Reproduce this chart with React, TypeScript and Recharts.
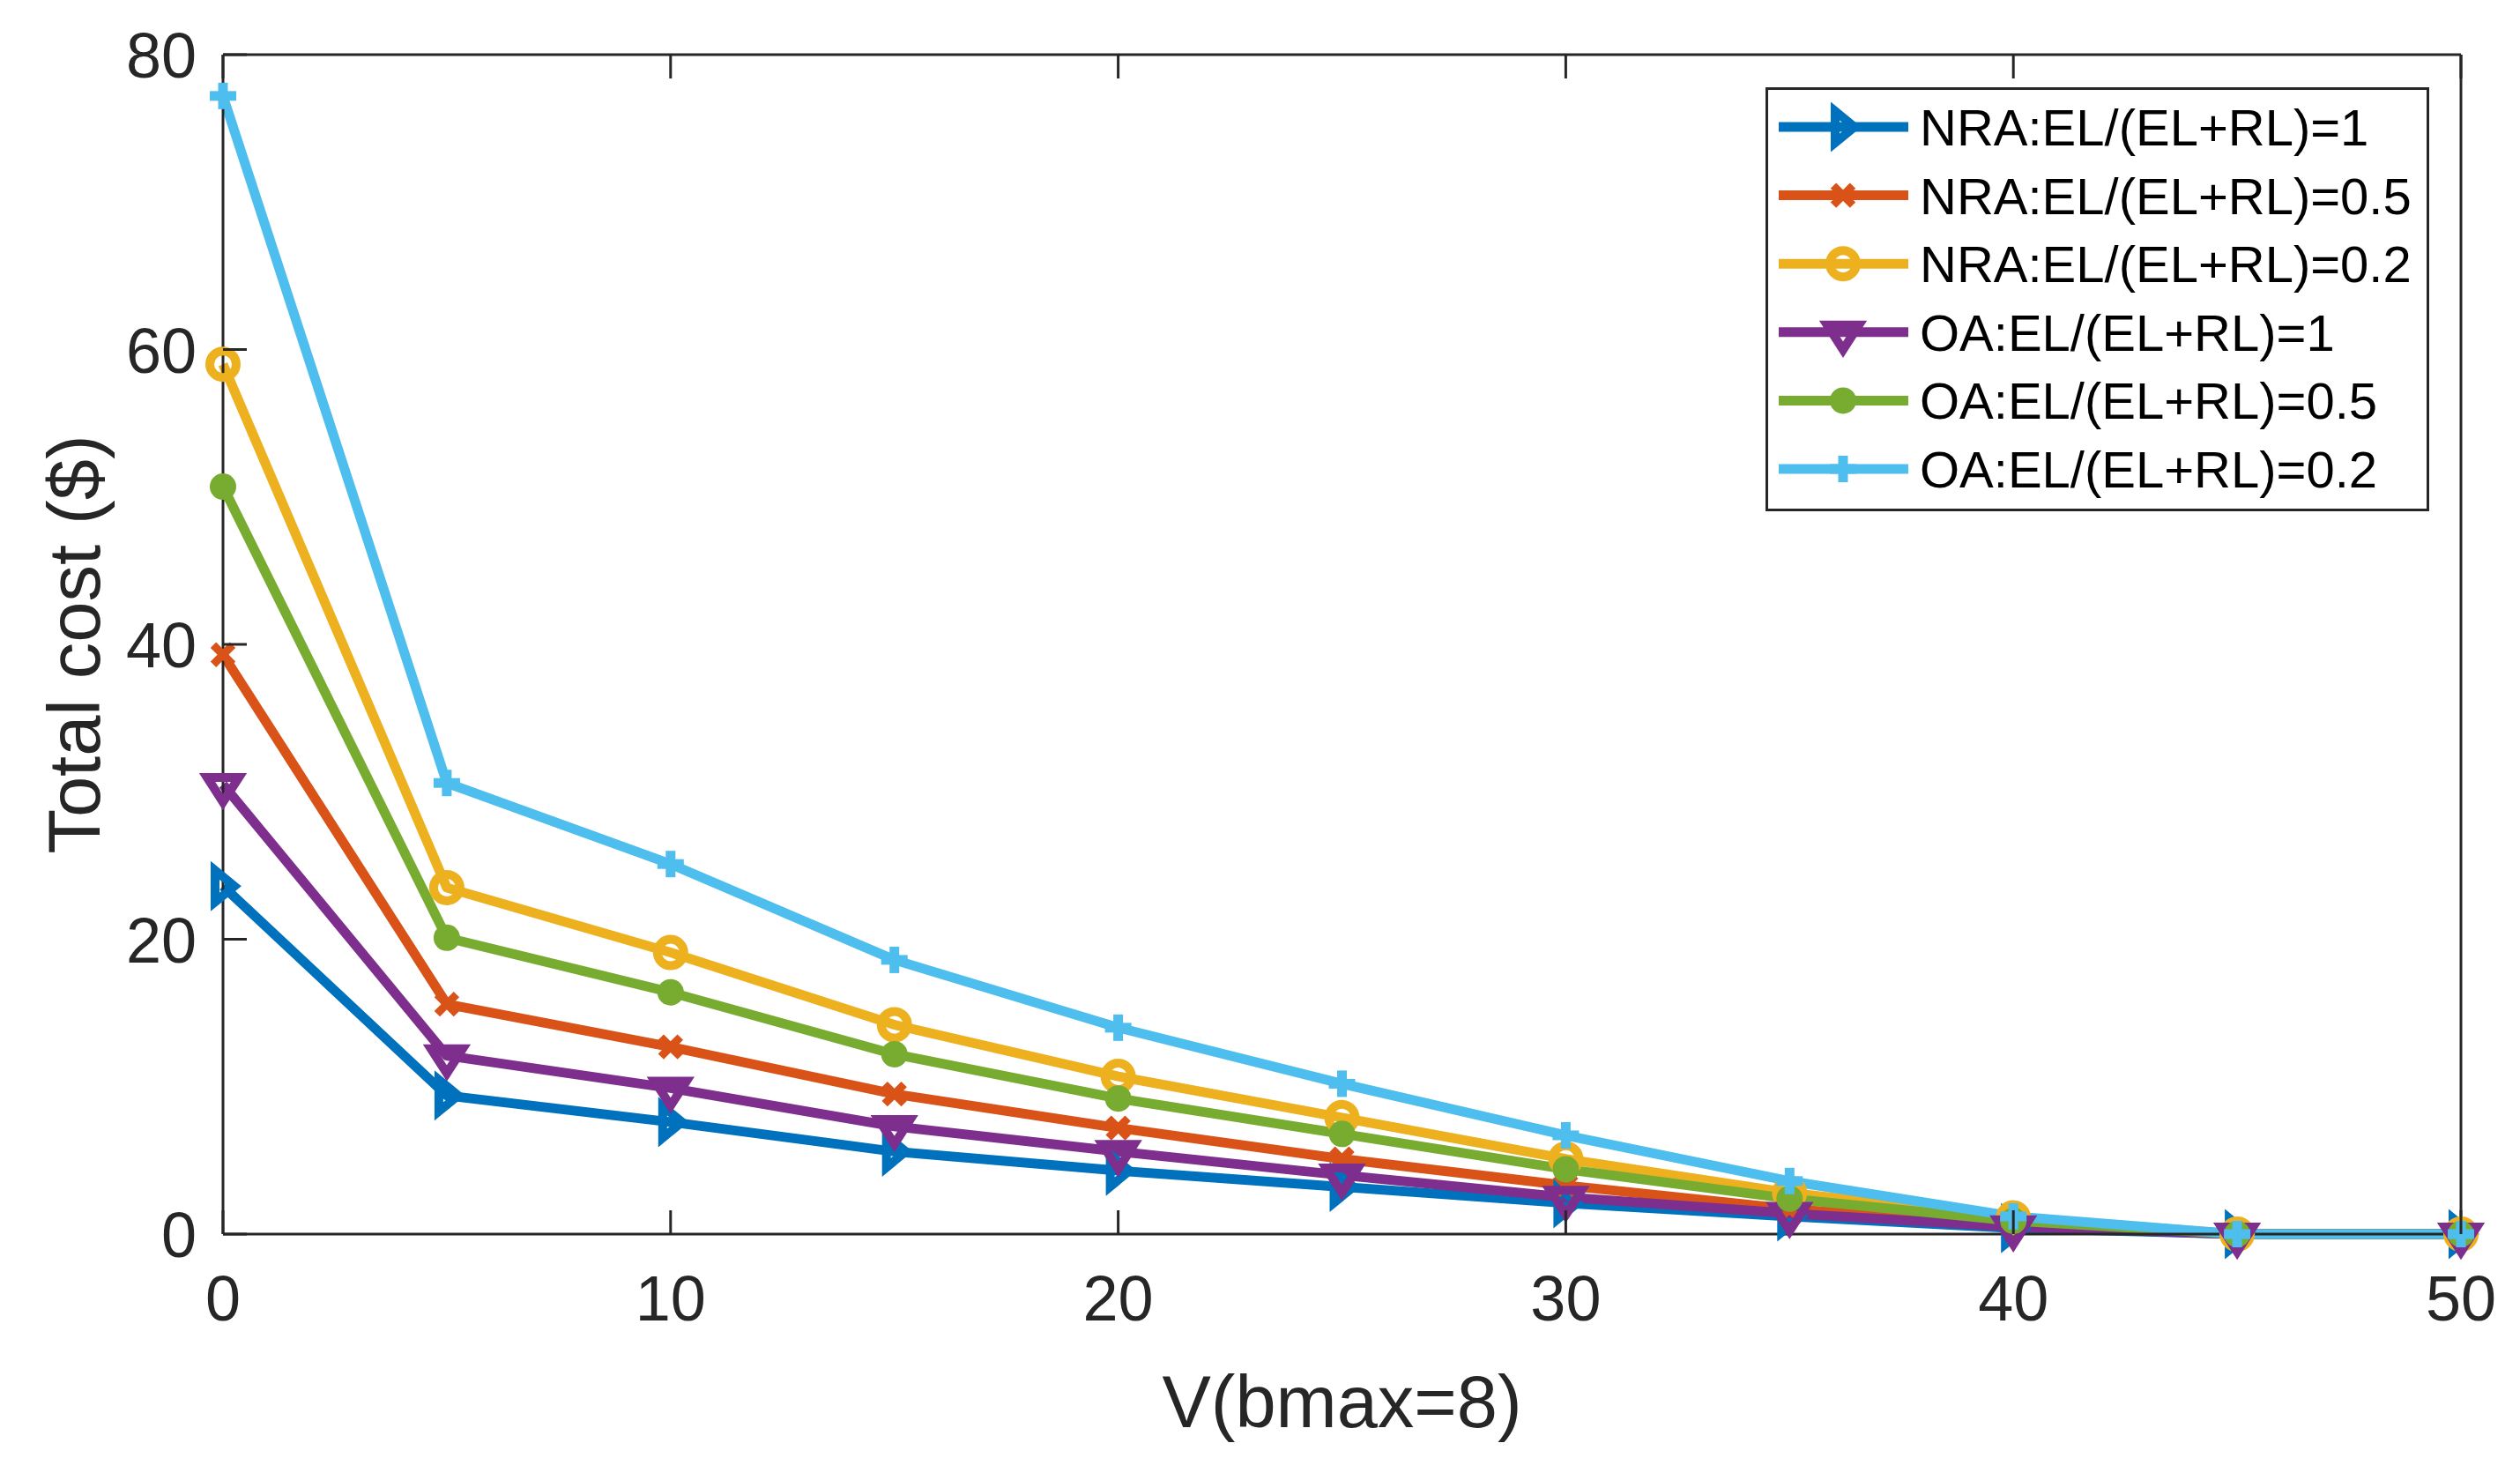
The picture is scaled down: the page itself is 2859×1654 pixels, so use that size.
import React from 'react';
import { LineChart, Line, XAxis, YAxis, Legend } from 'recharts';

const vValues = [0, 5, 10, 15, 20, 25, 30, 35, 40, 45, 50];
const nraOne = [23.6, 9.4, 7.6, 5.6, 4.3, 3.2, 2.1, 1.2, 0.4, 0, 0];
const nraHalf = [39.3, 15.6, 12.7, 9.5, 7.2, 5.1, 3.3, 1.7, 0.7, 0, 0];
const nraFifth = [59.0, 23.5, 19.1, 14.2, 10.7, 7.9, 5.1, 2.8, 1.1, 0, 0];
const oaOne = [30.5, 12.1, 9.9, 7.3, 5.6, 4.0, 2.5, 1.4, 0.5, 0, 0];
const oaHalf = [50.7, 20.1, 16.4, 12.2, 9.2, 6.8, 4.4, 2.4, 0.9, 0, 0];
const oaFifth = [77.2, 30.6, 25.1, 18.6, 14.0, 10.2, 6.7, 3.6, 1.2, 0, 0];

const xTicks = [0, 10, 20, 30, 40, 50];
const yTicks = [0, 20, 40, 60, 80];
const xLabel = 'V(bmax=8)';
const yLabel = 'Total cost ($)';

const seriesKeys = ['nraOne', 'nraHalf', 'nraFifth', 'oaOne', 'oaHalf', 'oaFifth'];
const seriesNames = [
  'NRA:EL/(EL+RL)=1',
  'NRA:EL/(EL+RL)=0.5',
  'NRA:EL/(EL+RL)=0.2',
  'OA:EL/(EL+RL)=1',
  'OA:EL/(EL+RL)=0.5',
  'OA:EL/(EL+RL)=0.2',
];
const seriesColors = ['#0072BD', '#D95319', '#EDB120', '#7E2F8E', '#77AC30', '#4DBEEE'];
const seriesShapes = ['triRight', 'cross', 'circle', 'triDown', 'dot', 'plus'];

const data = vValues.map((v, i) => ({
  v,
  nraOne: nraOne[i],
  nraHalf: nraHalf[i],
  nraFifth: nraFifth[i],
  oaOne: oaOne[i],
  oaHalf: oaHalf[i],
  oaFifth: oaFifth[i],
}));

const FONT = '"Liberation Sans", Arial, Helvetica, sans-serif';
const AXIS = '#262626';
const TICK_LEN = 27;
const LINE_W = 11;

function marker(shape: string, cx: number, cy: number, color: string, key?: any) {
  const sw = LINE_W;
  switch (shape) {
    case 'triRight':
      return (
        <polygon key={key} points={`${cx + 13},${cy} ${cx - 9},${cy - 18} ${cx - 9},${cy + 18}`}
          fill="none" stroke={color} strokeWidth={sw - 1} strokeLinejoin="miter" strokeMiterlimit={10} />
      );
    case 'triDown':
      return (
        <polygon key={key} points={`${cx - 18},${cy - 8} ${cx + 18},${cy - 8} ${cx},${cy + 20}`}
          fill="none" stroke={color} strokeWidth={sw - 1} strokeLinejoin="miter" strokeMiterlimit={10} />
      );
    case 'circle':
      return <circle key={key} cx={cx} cy={cy} r={15} fill="none" stroke={color} strokeWidth={sw - 1} />;
    case 'dot':
      return <circle key={key} cx={cx} cy={cy} r={15} fill={color} stroke="none" />;
    case 'cross':
      return (
        <g key={key} stroke={color} strokeWidth={sw - 2}>
          <line x1={cx - 11} y1={cy - 11} x2={cx + 11} y2={cy + 11} />
          <line x1={cx - 11} y1={cy + 11} x2={cx + 11} y2={cy - 11} />
        </g>
      );
    case 'plus':
    default:
      return (
        <g key={key} stroke={color} strokeWidth={sw}>
          <line x1={cx - 15} y1={cy} x2={cx + 15} y2={cy} />
          <line x1={cx} y1={cy - 15} x2={cx} y2={cy + 15} />
        </g>
      );
  }
}

const makeDot = (shape: string, color: string) => (props: any) => {
  const { cx, cy, index } = props;
  if (cx == null || cy == null) return <g key={`e${index}`} />;
  return marker(shape, cx, cy, color, `m${index}`);
};

const BottomTick = (props: any) => {
  const { x, y, payload } = props;
  return (
    <g>
      <line x1={x} y1={y} x2={x} y2={y - TICK_LEN} stroke={AXIS} strokeWidth={3} />
      <text x={x} y={y + 98} textAnchor="middle" fontFamily={FONT} fontSize={72} fill={AXIS}>
        {payload.value}
      </text>
    </g>
  );
};
const TopTick = (props: any) => {
  const { x, y } = props;
  return <line x1={x} y1={y} x2={x} y2={y + TICK_LEN} stroke={AXIS} strokeWidth={3} />;
};
const LeftTick = (props: any) => {
  const { x, y, payload } = props;
  return (
    <g>
      <line x1={x} y1={y} x2={x + TICK_LEN} y2={y} stroke={AXIS} strokeWidth={3} />
      <text x={x - 30} y={y + 26} textAnchor="end" fontFamily={FONT} fontSize={72} fill={AXIS}>
        {payload.value}
      </text>
    </g>
  );
};
const RightTick = (props: any) => {
  const { x, y } = props;
  return <line x1={x} y1={y} x2={x - TICK_LEN} y2={y} stroke={AXIS} strokeWidth={3} />;
};

const XLabelContent = (props: any) => {
  const vb = props.viewBox || {};
  return (
    <text x={vb.x + vb.width / 2} y={vb.y + 219} textAnchor="middle" fontFamily={FONT} fontSize={83} fill={AXIS}>
      {xLabel}
    </text>
  );
};
const YLabelContent = (props: any) => {
  const vb = props.viewBox || {};
  const cx = vb.x + 113;
  const cy = vb.y + vb.height / 2;
  return (
    <text transform={`translate(${cx},${cy}) rotate(-90)`} x={0} y={0} textAnchor="middle"
      fontFamily={FONT} fontSize={83} fill={AXIS}>
      {yLabel}
    </text>
  );
};

const LegendBox = () => (
  <svg width={754} height={482} style={{ display: 'block' }}>
    <rect x={1.5} y={1.5} width={750} height={478} fill="#ffffff" stroke={AXIS} strokeWidth={3} />
    {seriesNames.map((name, i) => {
      const cy = 45 + i * 77.6;
      return (
        <g key={name}>
          <line x1={15} y1={cy} x2={162} y2={cy} stroke={seriesColors[i]} strokeWidth={LINE_W} />
          {marker(seriesShapes[i], 88, cy, seriesColors[i])}
          <text x={175} y={cy + 21} fontFamily={FONT} fontSize={58} fill="#000">
            {name}
          </text>
        </g>
      );
    })}
  </svg>
);

export default function App() {
  return (
    <div style={{ position: 'absolute', left: 0, top: 0, width: 2859, height: 1654, background: '#fff' }}>
      <LineChart width={2859} height={1654} data={data} margin={{ top: 61, right: 66, bottom: 0, left: 0 }}>
        <XAxis xAxisId="b" dataKey="v" type="number" domain={[0, 50]} ticks={xTicks} interval={0}
          height={254} tickSize={0} tickMargin={0} tickLine={false}
          axisLine={{ stroke: AXIS, strokeWidth: 3 }} tick={<BottomTick />}
          label={<XLabelContent />} />
        <XAxis xAxisId="t" orientation="top" dataKey="v" type="number" domain={[0, 50]} ticks={xTicks}
          interval={0} height={1} tickSize={0} tickMargin={0} tickLine={false}
          axisLine={{ stroke: AXIS, strokeWidth: 3 }} tick={<TopTick />} />
        <YAxis yAxisId="l" type="number" domain={[0, 80]} ticks={yTicks} interval={0} width={253}
          tickSize={0} tickMargin={0} tickLine={false} axisLine={{ stroke: AXIS, strokeWidth: 3 }}
          tick={<LeftTick />} label={<YLabelContent />} />
        <YAxis yAxisId="r" orientation="right" type="number" domain={[0, 80]} ticks={yTicks} interval={0}
          width={1} tickSize={0} tickMargin={0} tickLine={false}
          axisLine={{ stroke: AXIS, strokeWidth: 3 }} tick={<RightTick />} />
        <Legend layout="vertical" align="center" verticalAlign="middle" content={<LegendBox />}
          wrapperStyle={{ position: 'absolute', left: 2003, top: 99, width: 754, height: 482 }} />
        {seriesKeys.map((k, i) => (
          <Line key={k} xAxisId="b" yAxisId="l" type="linear" dataKey={k} name={seriesNames[i]}
            stroke={seriesColors[i]} strokeWidth={LINE_W} strokeLinejoin="round"
            dot={makeDot(seriesShapes[i], seriesColors[i])} activeDot={false}
            isAnimationActive={false} />
        ))}
      </LineChart>
    </div>
  );
}
